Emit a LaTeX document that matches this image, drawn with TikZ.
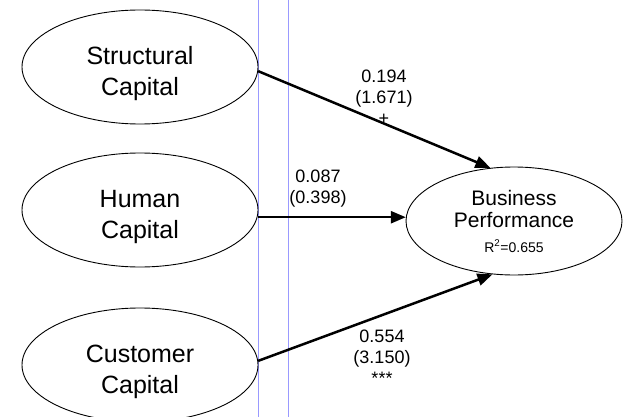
\documentclass[tikz,border=0pt]{standalone}
\usepackage{fontspec}
\setmainfont{Liberation Sans}
\usetikzlibrary{arrows.meta,shapes.geometric}

\begin{document}
\begin{tikzpicture}[x=1pt,y=-1pt,
  latent/.style={draw,ellipse,line width=0.9pt,minimum width=236pt,minimum height=114pt,inner sep=0pt,align=center,font=\fontsize{25}{31}\selectfont},
  outcome/.style={draw,ellipse,line width=0.9pt,minimum width=216pt,minimum height=108pt,inner sep=0pt,align=center,font=\fontsize{21}{22}\selectfont},
  coef/.style={align=center,inner sep=0pt,font=\fontsize{18}{21}\selectfont},
  path/.style={-{Triangle[length=15pt,width=12pt]},line width=2.5pt},
  guide/.style={draw=blue!40,line width=1pt}]
\useasboundingbox (0,0) rectangle (626,417);
% two vertical guides
\draw[guide] (258,0) -- (258,417);
\draw[guide] (288,0) -- (288,417);
% constructs (strut pushes the two lines a little below centre)
\node[latent] (sc) at (140,67) {\rule{0pt}{32pt}Structural\\Capital};
\node[latent] (hc) at (140,210) {\rule{0pt}{32pt}Human\\Capital};
\node[latent] (cc) at (140,365) {\rule{0pt}{32pt}Customer\\Capital};
\node[outcome] (bp) at (514,221) {Business\\Performance\\[3pt]{\fontsize{14}{16}\selectfont R\textsuperscript{2}=0.655}};
% paths
\draw[path] (sc.-2.5) -- (bp.114);
\draw[path] (hc.east |- bp.178) -- (bp.178);
\draw[path] (cc.2.5) -- (bp.248);
% coefficients (t-values)
\node[coef] (c1) at (384,97) {0.194\\(1.671)\\+};
\node[coef] (c2) at (318,189) {0.087\\(0.398)};
\node[coef] (c3) at (382,357) {0.554\\(3.150)\\***};
\end{tikzpicture}
\end{document}
